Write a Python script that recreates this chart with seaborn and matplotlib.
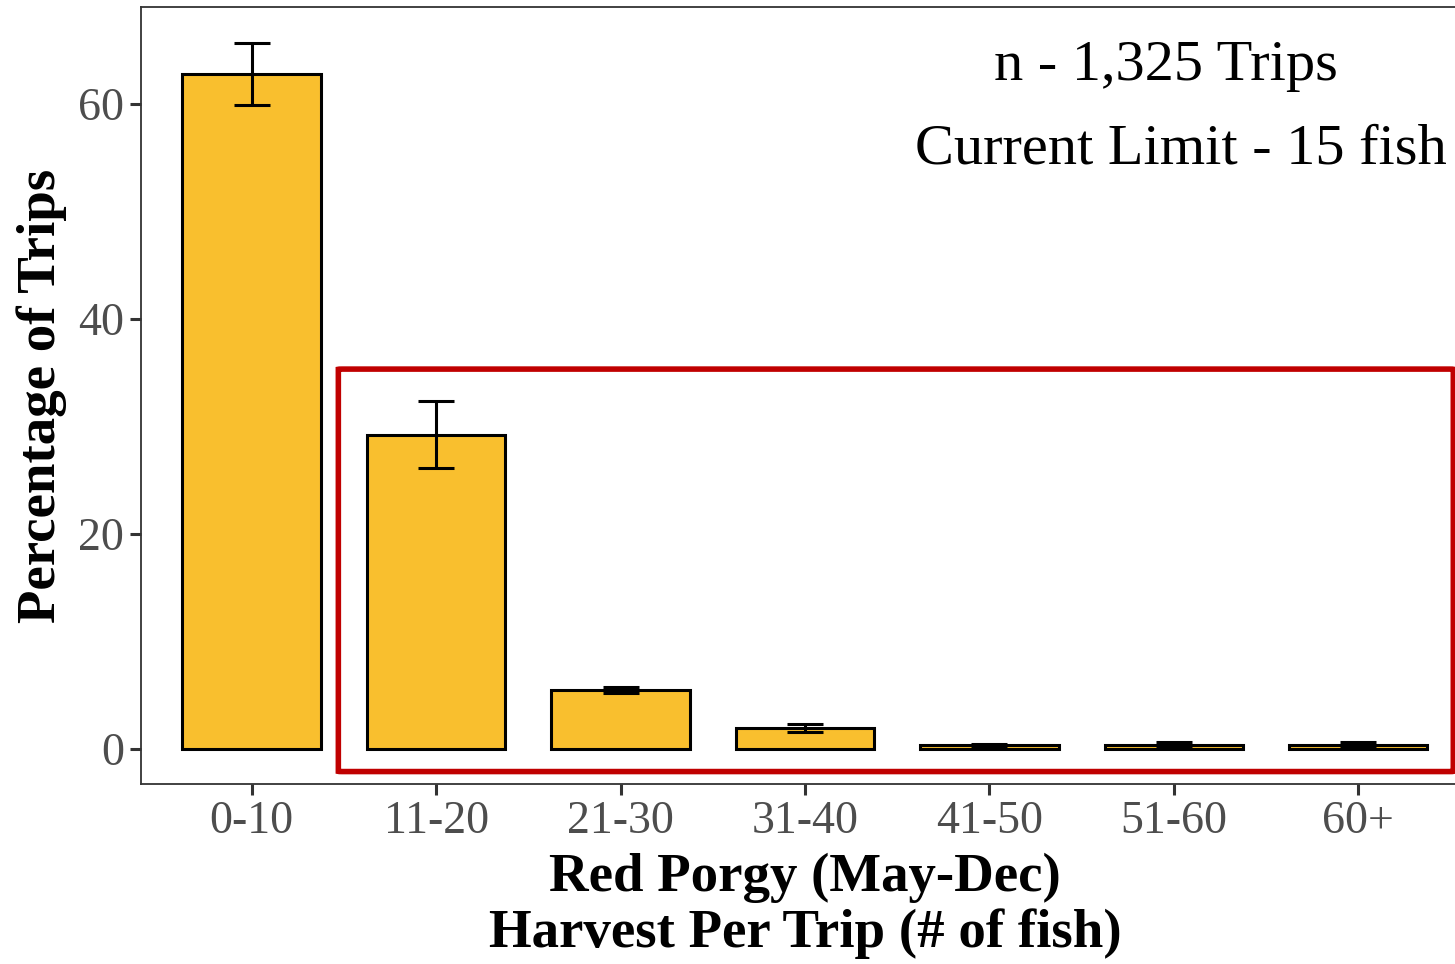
import matplotlib
matplotlib.use("Agg")
import matplotlib.pyplot as plt
from matplotlib.patches import FancyBboxPatch
import seaborn as sns
import numpy as np

sns.set_theme(style="white")
plt.rcParams['font.family'] = ['Liberation Serif', 'DejaVu Serif']

categories = ['0-10', '11-20', '21-30', '31-40', '41-50', '51-60', '60+']
pct_trips = [62.8, 29.2, 5.45, 1.9, 0.3, 0.3, 0.3]
err_low = [59.9, 26.1, 5.15, 1.55, 0.25, 0.2, 0.2]
err_high = [65.7, 32.3, 5.75, 2.25, 0.45, 0.6, 0.6]

fig = plt.figure(figsize=(14.55, 9.64), dpi=100)
ax = fig.add_axes([0.0969, 0.1867, 0.9127, 0.806])

sns.barplot(x=categories, y=pct_trips, color='#F9BF2E', saturation=1,
            edgecolor='black', linewidth=2.2, width=0.75, errorbar=None, ax=ax)

xs = np.arange(len(categories))
vals = np.array(pct_trips)
yerr = [vals - np.array(err_low), np.array(err_high) - vals]
ax.errorbar(xs, vals, yerr=yerr, fmt='none', ecolor='black', elinewidth=2.2,
            capsize=13, capthick=2.2, zorder=5)

ax.set_xlim(-0.6, 6.6)
ax.set_ylim(-3.3, 69.0)
ax.set_yticks([0, 20, 40, 60])

for s in ax.spines.values():
    s.set_color('#333333')
    s.set_linewidth(1.3)

ax.tick_params(axis='both', which='major', length=8, width=2.2, color='#333333',
               labelsize=33, labelcolor='#4D4D4D', pad=4, left=True, bottom=True)

ax.set_xlabel('Red Porgy (May-Dec)\nHarvest Per Trip (# of fish)', fontsize=39.5,
              fontweight='bold', labelpad=7, linespacing=1.12, color='black')
ax.set_ylabel('Percentage of Trips', fontsize=39.5, fontweight='bold', labelpad=8,
              color='black')

ax.text(4.957, 63.5, 'n - 1,325 Trips', fontsize=42, ha='center', va='center', color='black')
ax.text(5.04, 55.7, 'Current Limit - 15 fish', fontsize=42, ha='center', va='center', color='black')

box = FancyBboxPatch((0.47, -2.14), 6.045, 37.45,
                     boxstyle='round,pad=0,rounding_size=0.02',
                     fill=False, edgecolor='#C00000', linewidth=4, clip_on=False, zorder=6)
ax.add_patch(box)

fig.savefig('out.png', dpi=100)
